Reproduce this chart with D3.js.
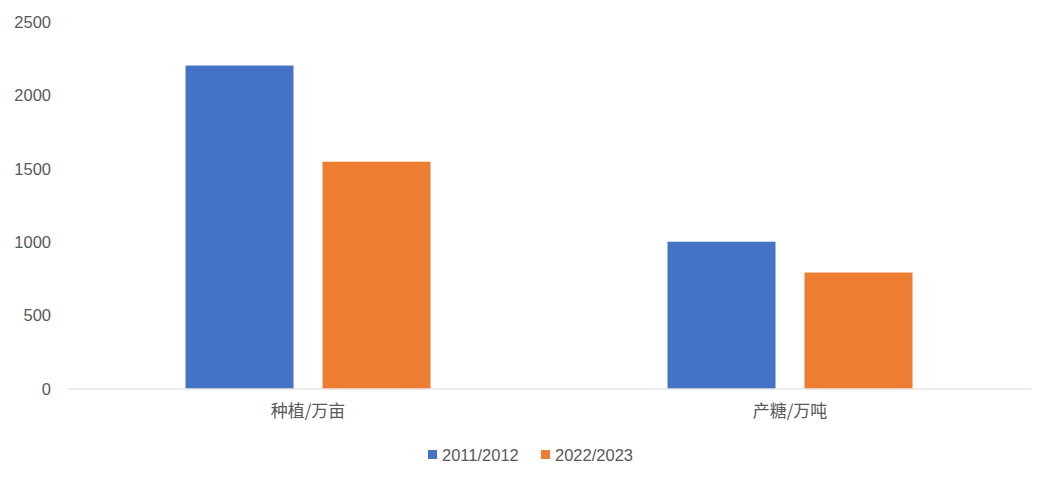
<!DOCTYPE html>
<html><head><meta charset="utf-8">
<script src="https://cdn.jsdelivr.net/npm/d3@7"></script>
<style>body{margin:0;background:#fff}svg{display:block}</style>
</head><body>
<script>
const categories = ["种植/万亩", "产糖/万吨"];
const seriesNames = ["2011/2012", "2022/2023"];
const values2011 = [2200, 1000];
const values2022 = [1545, 790];
const yTicks = [0, 500, 1000, 1500, 2000, 2500];
const colors = ["#4472C4", "#ED7D31"];

const W = 1054, H = 484;
const svg = d3.select("body").append("svg").attr("width", W).attr("height", H);
const seriesVals = [values2011, values2022];
const data = categories.map((c, i) => ({cat: c, vals: seriesNames.map((s, j) => ({s, v: seriesVals[j][i], j}))}));

const x0 = d3.scaleBand().domain(categories).range([67, 1031]).padding(0);
const x1 = d3.scaleBand().domain(seriesNames).range([0, x0.bandwidth()]).paddingInner(0.2117).paddingOuter(0.865);
const y = d3.scaleLinear().domain([0, 2500]).range([388.5, 21.5]);

const numFont = "'Liberation Sans', Arial, sans-serif";
const cjkFont = "'Noto Sans CJK SC', sans-serif";
const txtColor = "#595959";

// Y axis labels
const yAxis = d3.axisLeft(y).tickValues(yTicks).tickFormat(d3.format("d")).tickSize(0).tickPadding(0);
const gy = svg.append("g").attr("transform", "translate(51,0)").call(yAxis);
gy.select(".domain").remove();
gy.selectAll("text").attr("font-family", numFont).attr("font-size", 16.5).attr("fill", txtColor).attr("dy", "0.35em");

// bars
const g = svg.append("g");
g.selectAll("g.cat").data(data).join("g").attr("class", "cat")
  .attr("transform", d => `translate(${x0(d.cat)},0)`)
  .selectAll("rect").data(d => d.vals).join("rect")
  .attr("x", d => x1(d.s)).attr("width", x1.bandwidth())
  .attr("y", d => y(d.v)).attr("height", d => y(0) - y(d.v))
  .attr("fill", d => colors[d.j]);

// X axis
const xAxis = d3.axisBottom(x0).tickSize(0).tickPadding(0);
const gx = svg.append("g").attr("transform", `translate(0,${y(0)})`).call(xAxis);
gx.select(".domain").attr("stroke", "#D9D9D9").attr("stroke-width", 1.2);
gx.selectAll("text").attr("font-family", cjkFont).attr("font-size", 17).attr("fill", txtColor)
  .attr("y", 23).attr("dy", "0.35em");

// legend
const legendX = [428, 541];
const lg = svg.append("g");
seriesNames.forEach((s, i) => {
  lg.append("rect").attr("x", legendX[i]).attr("y", 450).attr("width", 9).attr("height", 9).attr("fill", colors[i]);
  lg.append("text").attr("x", legendX[i] + 14).attr("y", 455).attr("dy", "0.35em")
    .attr("font-family", numFont).attr("font-size", 16.5).attr("fill", txtColor).text(s);
});
</script>
</body></html>
